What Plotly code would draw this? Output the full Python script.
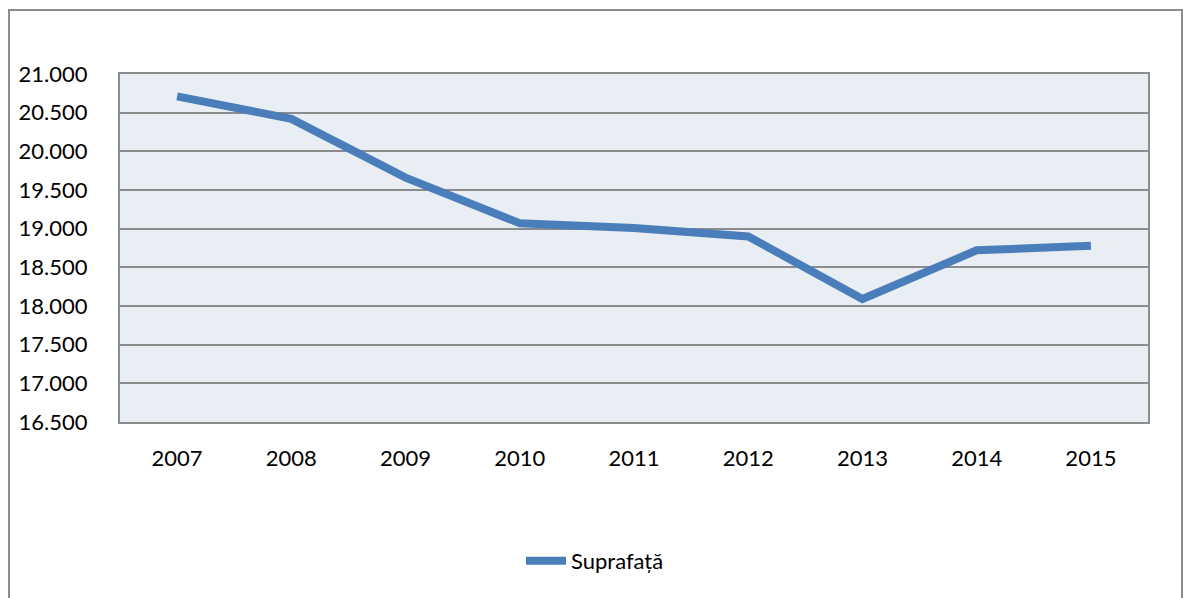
import plotly.graph_objects as go

years = ["2007", "2008", "2009", "2010", "2011", "2012", "2013", "2014", "2015"]
suprafata = [20710, 20420, 19660, 19070, 19010, 18900, 18090, 18720, 18780]
series_name = "Suprafață"

W, H = 1183, 598
L, R, T, B = 120, 35, 74, 176
pw = W - L - R
ph = H - T - B

fig = go.Figure()
fig.add_trace(go.Scatter(
    x=years, y=suprafata, mode="lines", name=series_name,
    line=dict(color="#4A7EBB", width=8),
))

def px_x(p):
    return (p - L) / pw

def px_y(p):
    return (H - B - p) / ph

fig.add_shape(type="rect", xref="paper", yref="paper",
              x0=px_x(9), x1=px_x(1182), y0=px_y(10), y1=px_y(604),
              line=dict(color="#8C8C8C", width=2), fillcolor="rgba(0,0,0,0)", layer="below")

font = dict(family="Lato, Carlito, Calibri, sans-serif", size=22, color="#000000")

fig.update_layout(
    width=W, height=H,
    margin=dict(l=L, r=R, t=T, b=B, pad=0),
    paper_bgcolor="white",
    plot_bgcolor="#E9EDF4",
    separators=",.",
    font=font,
    showlegend=True,
    legend=dict(orientation="h", x=px_x(595), xanchor="center", y=px_y(561), yanchor="middle",
                font=dict(family="Lato, sans-serif", size=22, color="#000"), itemwidth=40,
                bgcolor="rgba(0,0,0,0)"),
    xaxis=dict(type="category", range=[-0.5, len(years) - 0.5], showgrid=False, showline=True,
               linecolor="#8C8C8C", linewidth=2,
               mirror=True, ticks="", ticklabelstandoff=16, tickfont=font, zeroline=False),
    yaxis=dict(range=[16500, 21000], dtick=500, tick0=16500, tickformat=",.0f",
               showgrid=True, gridcolor="#8C8C8C", gridwidth=1.5,
               showline=True, linecolor="#8C8C8C", linewidth=2, mirror=True,
               ticks="", ticklabelstandoff=26, tickfont=font, zeroline=False),
)

fig.write_html("out.html", config={"displayModeBar": False},
               post_script="document.body.style.margin='0';document.body.style.padding='0';")
